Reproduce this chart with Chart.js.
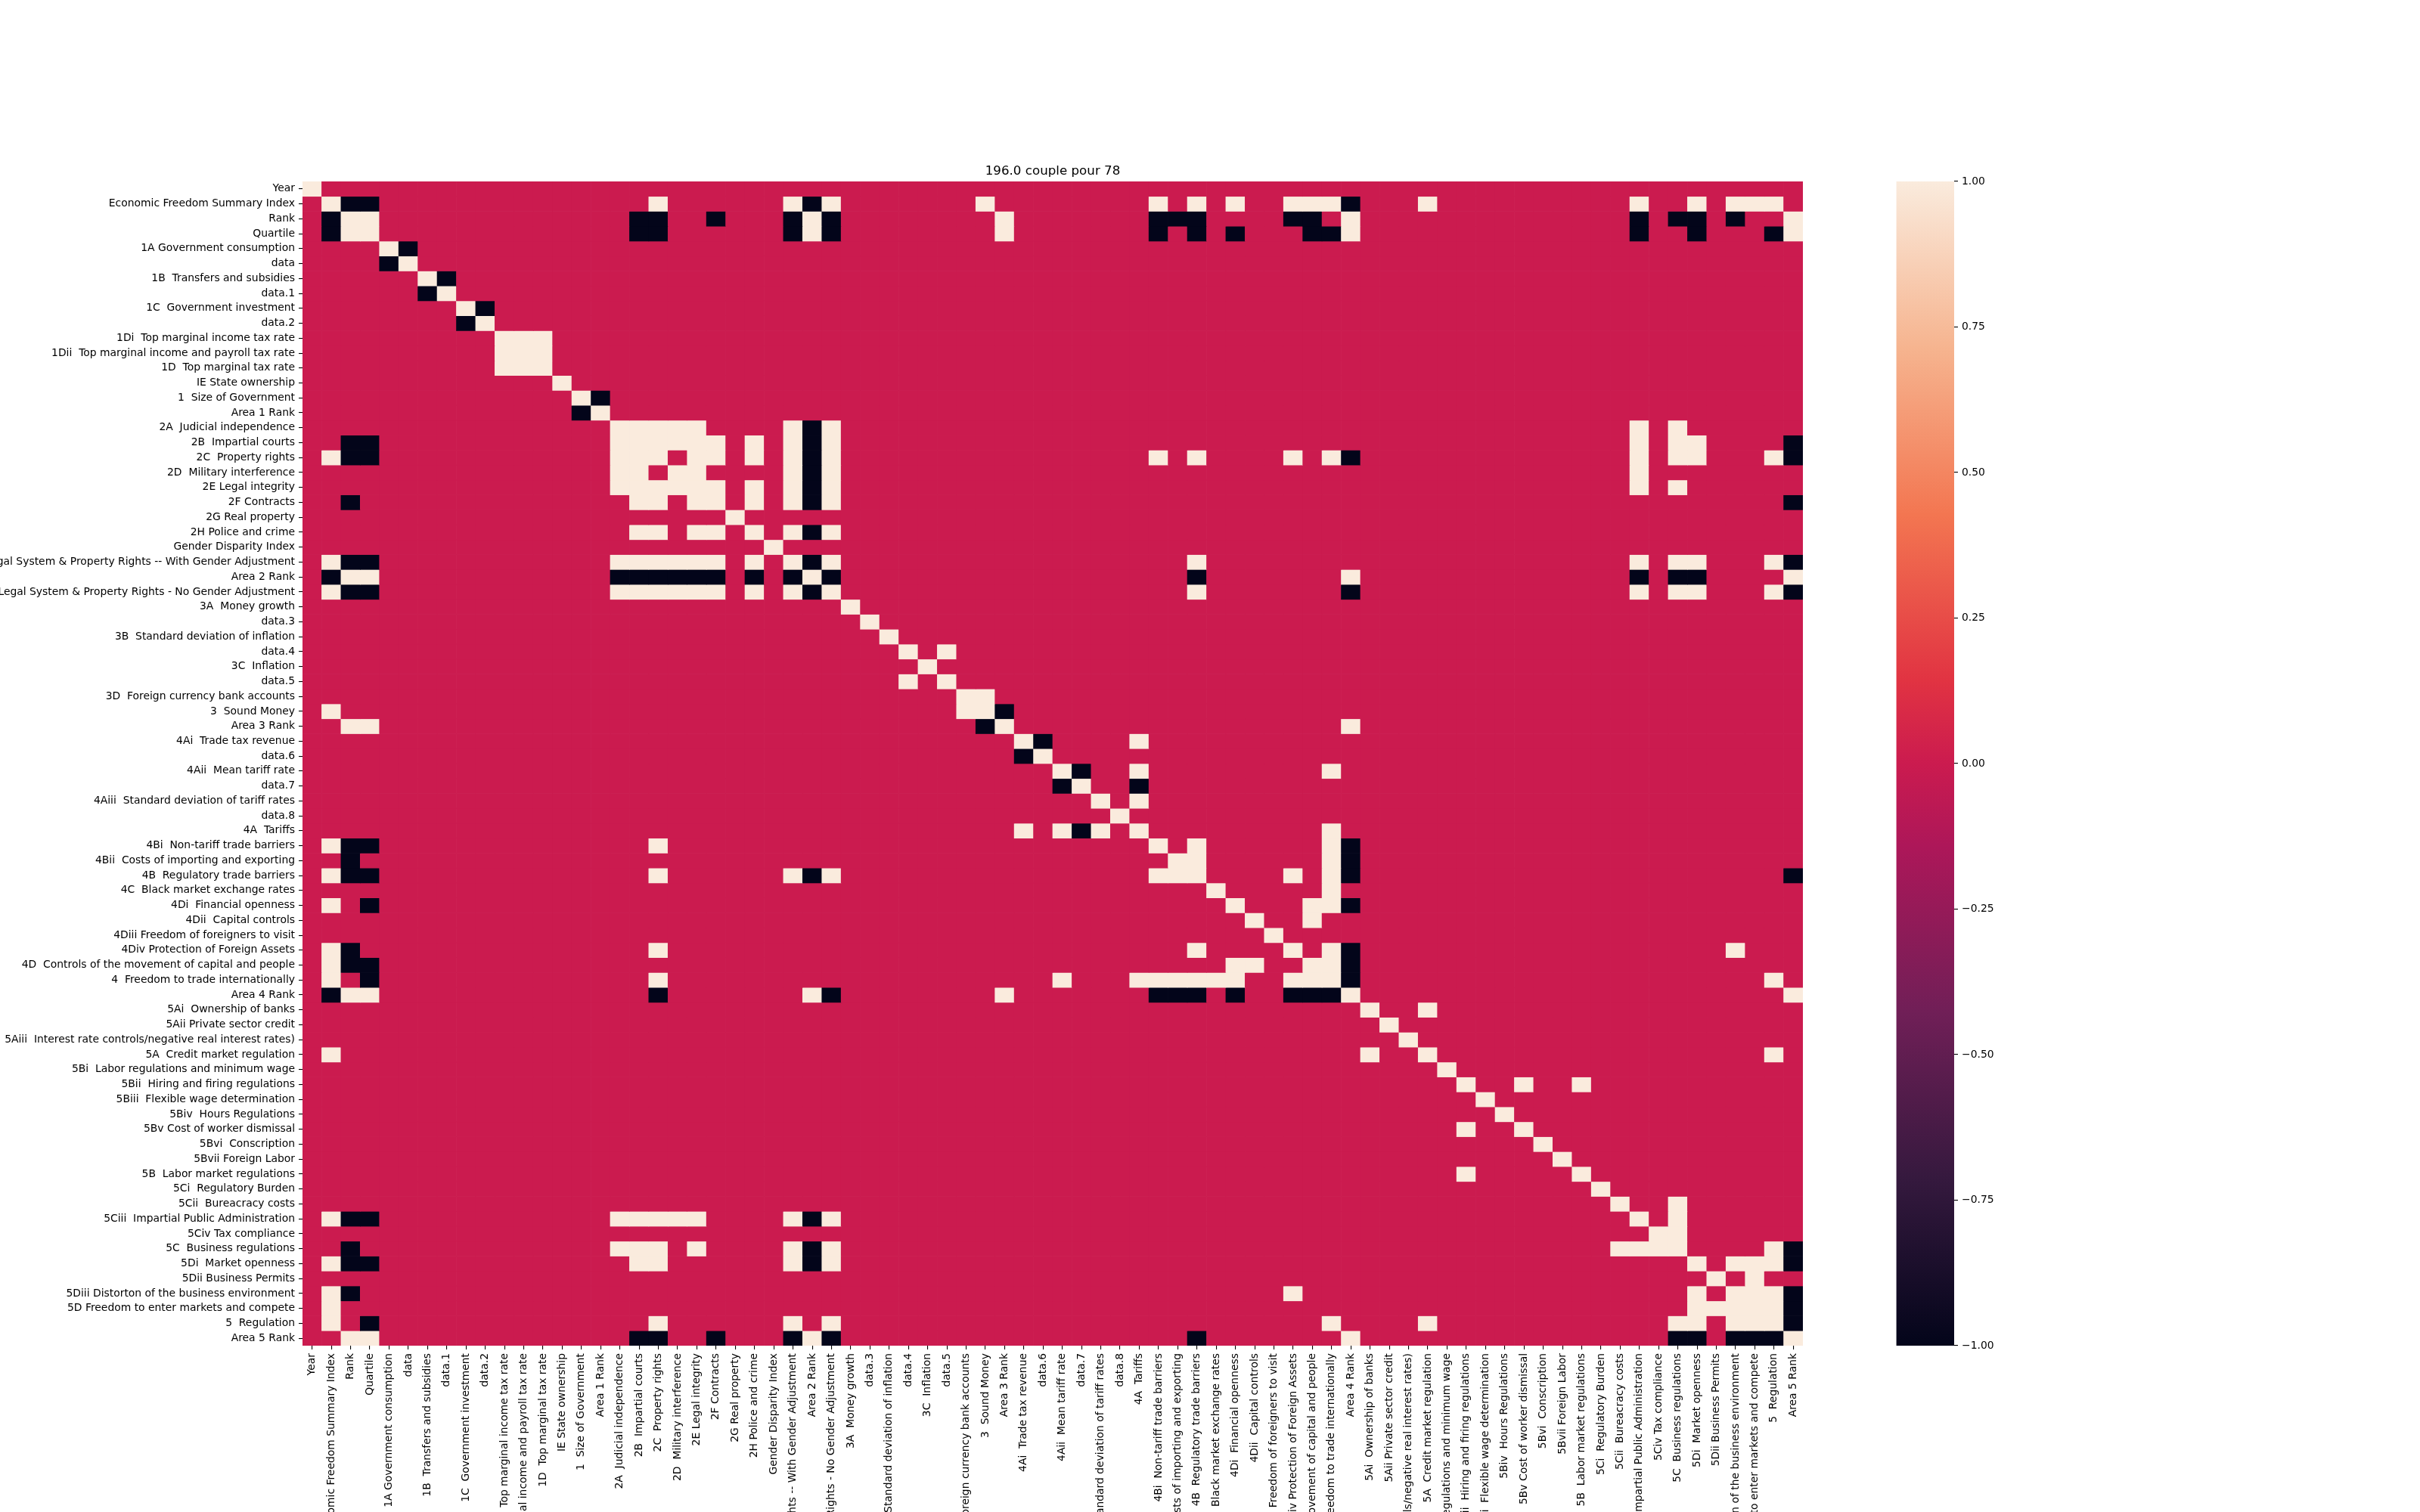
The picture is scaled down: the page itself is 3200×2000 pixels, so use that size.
<!DOCTYPE html>
<html>
<head>
<meta charset="utf-8">
<script src="https://cdn.jsdelivr.net/npm/chart.js@4.4.1/dist/chart.umd.min.js"></script>
<style>
  html, body { margin: 0; padding: 0; background: #fff; overflow: hidden; }
  #main { position: absolute; left: 0; top: 0; width: 3200px; height: 2000px; }
  #cbar { position: absolute; left: 2480px; top: 0; width: 300px; height: 2000px; }
</style>
</head>
<body>
<div id="main"><canvas id="heat"></canvas></div>
<div id="cbar"><canvas id="bar"></canvas></div>
<script>
const chartTitle = '196.0 couple pour 78';

const rowLabels = [
  'Year', 'Economic Freedom Summary Index', 'Rank', 'Quartile',
  '1A Government consumption', 'data', '1B  Transfers and subsidies', 'data.1',
  '1C  Government investment', 'data.2', '1Di  Top marginal income tax rate',
  '1Dii  Top marginal income and payroll tax rate', '1D  Top marginal tax rate',
  'IE State ownership', '1  Size of Government', 'Area 1 Rank',
  '2A  Judicial independence', '2B  Impartial courts', '2C  Property rights',
  '2D  Military interference', '2E Legal integrity', '2F Contracts', '2G Real property',
  '2H Police and crime', 'Gender Disparity Index',
  '2  Legal System & Property Rights -- With Gender Adjustment', 'Area 2 Rank',
  '2  Legal System & Property Rights - No Gender Adjustment',
  '3A  Money growth', 'data.3', '3B  Standard deviation of inflation', 'data.4',
  '3C  Inflation', 'data.5', '3D  Foreign currency bank accounts', '3  Sound Money',
  'Area 3 Rank', '4Ai  Trade tax revenue', 'data.6', '4Aii  Mean tariff rate', 'data.7',
  '4Aiii  Standard deviation of tariff rates', 'data.8', '4A  Tariffs',
  '4Bi  Non-tariff trade barriers', '4Bii  Costs of importing and exporting',
  '4B  Regulatory trade barriers', '4C  Black market exchange rates',
  '4Di  Financial openness', '4Dii  Capital controls', '4Diii Freedom of foreigners to visit',
  '4Div Protection of Foreign Assets', '4D  Controls of the movement of capital and people',
  '4  Freedom to trade internationally', 'Area 4 Rank', '5Ai  Ownership of banks',
  '5Aii Private sector credit', '5Aiii  Interest rate controls/negative real interest rates)',
  '5A  Credit market regulation', '5Bi  Labor regulations and minimum wage',
  '5Bii  Hiring and firing regulations', '5Biii  Flexible wage determination',
  '5Biv  Hours Regulations', '5Bv Cost of worker dismissal', '5Bvi  Conscription',
  '5Bvii Foreign Labor', '5B  Labor market regulations', '5Ci  Regulatory Burden',
  '5Cii  Bureacracy costs', '5Ciii  Impartial Public Administration', '5Civ Tax compliance',
  '5C  Business regulations', '5Di  Market openness', '5Dii Business Permits',
  '5Diii Distorton of the business environment', '5D Freedom to enter markets and compete',
  '5  Regulation', 'Area 5 Rank'
];
const colLabels = rowLabels;

// cells read as +1.00 (cream), per row: column indexes
const plusCells = [
  [0], [1,18,25,27,35,44,46,48,51,52,53,58,69,72,74,75,76], [2,3,26,36,54,77], [2,3,26,36,54,77],
  [4], [5], [6], [7], [8], [9], [10,11,12], [10,11,12], [10,11,12], [13], [14], [15],
  [16,17,18,19,20,25,27,69,71],
  [16,17,18,19,20,21,23,25,27,69,71,72],
  [1,16,17,18,20,21,23,25,27,44,46,51,53,69,71,72,76],
  [16,17,19,20,25,27,69],
  [16,17,18,19,20,21,23,25,27,69,71],
  [17,18,20,21,23,25,27],
  [22],
  [17,18,20,21,23,25,27],
  [24],
  [1,16,17,18,19,20,21,23,25,27,46,69,71,72,76],
  [2,3,26,54,77],
  [1,16,17,18,19,20,21,23,25,27,46,69,71,72,76],
  [28], [29], [30], [31,33], [32], [31,33], [34,35], [1,34,35], [2,3,36,54],
  [37,43], [38], [39,43,53], [40], [41,43], [42], [37,39,41,43,53],
  [1,18,44,46,53], [45,46,53], [1,18,25,27,44,45,46,51,53], [47,53], [1,48,52,53],
  [49,52], [50], [1,18,46,51,53,74], [1,48,49,52,53],
  [1,18,39,43,44,45,46,47,48,51,52,53,76],
  [2,3,26,36,54,77],
  [55,58], [56], [57], [1,55,58,76], [59], [60,63,66], [61], [62], [60,63], [64], [65],
  [60,66], [67], [68,71],
  [1,16,17,18,19,20,25,27,69,71],
  [70,71],
  [16,17,18,20,25,27,68,69,70,71,76],
  [1,17,18,25,27,72,74,75,76],
  [73,75],
  [1,51,72,74,75,76],
  [1,72,73,74,75,76],
  [1,18,25,27,53,58,71,72,74,75,76],
  [2,3,26,54,77]
];

// cells read as -1.00 (black), per row: column indexes
const minusCells = [
  [], [2,3,26,54], [1,17,18,21,25,27,44,45,46,51,52,69,71,72,74],
  [1,17,18,25,27,44,46,48,52,53,69,72,76],
  [5], [4], [7], [6], [9], [8], [], [], [], [], [15], [14],
  [26], [2,3,26,77], [2,3,26,54,77], [26], [26], [2,26,77], [], [26], [],
  [2,3,26,77],
  [1,16,17,18,19,20,21,23,25,27,46,69,71,72],
  [2,3,26,54,77],
  [], [], [], [], [], [], [], [36], [35], [38], [37], [40], [39,43], [], [], [40],
  [2,3,54], [2,54], [2,3,26,54,77], [], [3,54], [], [], [2,54], [2,3,54], [3,54],
  [1,18,27,44,45,46,48,51,52,53],
  [], [], [], [], [], [], [], [], [], [], [], [], [], [],
  [2,3,26], [], [2,26,77], [2,3,26,77], [], [2,77], [77], [3,77],
  [17,18,21,25,27,46,71,72,74,75,76]
];

const cbarTicks = [-1, -0.75, -0.5, -0.25, 0, 0.25, 0.5, 0.75, 1];

// rocket colormap stops
const rocketStops = [
  [0.000, '#03051a'], [0.143, '#35193e'], [0.286, '#701f57'], [0.429, '#ad1759'],
  [0.500, '#cb1b4f'], [0.571, '#e13342'], [0.714, '#f37651'], [0.857, '#f6b48f'],
  [1.000, '#faebdd']
];

const font = { family: 'DejaVu Sans', size: 13.9 };
const ink  = '#000';

function hexRgb(hex) {
    return [1, 3, 5].map(i => parseInt(hex.slice(i, i + 2), 16));
}

function rocket(v) {
    const t = (v + 1) / 2;
    for (let i = 1; i < rocketStops.length; i++) {
        const [t1, c1] = rocketStops[i];
        const [t0, c0] = rocketStops[i - 1];
        if (t <= t1) {
            const k = (t - t0) / (t1 - t0);
            const a = hexRgb(c0), b = hexRgb(c1);
            const m = a.map((x, j) => Math.round(x + (b[j] - x) * k));
            return `rgb(${m[0]},${m[1]},${m[2]})`;
        }
    }
    return rocketStops[rocketStops.length - 1][1];
}

// ── matrix of values ──
const corr = rowLabels.map((_, r) => colLabels.map((_, c) =>
    plusCells[r].includes(c) ? 1 : (minusCells[r].includes(c) ? -1 : 0)));

const datasets = rowLabels.map((name, r) => ({
    label: name,
    data: colLabels.map(() => [r, r + 1]),
    backgroundColor: corr[r].map(rocket),
    borderWidth: 0,
    barPercentage: 1,
    categoryPercentage: 1,
    grouped: false
}));

new Chart(document.getElementById('heat'), {
    type: 'bar',
    data: { labels: colLabels, datasets },
    options: {
        animation: false,
        responsive: true,
        maintainAspectRatio: false,
        devicePixelRatio: 1,
        layout: { padding: { left: 0, top: 210, right: 816, bottom: 0 } },
        plugins: { legend: { display: false }, tooltip: { enabled: false } },
        scales: {
            x: {
                type: 'category',
                position: 'bottom',
                offset: true,
                ticks: { autoSkip: false, minRotation: 90, maxRotation: 90, font, color: ink, padding: 5 },
                grid: { offset: false, drawOnChartArea: false, tickLength: 5, color: ink, lineWidth: 1.1 },
                border: { display: false },
                afterFit: s => { s.height = 220; }
            },
            top: {
                type: 'category',
                axis: 'x',
                position: 'top',
                offset: true,
                ticks: { display: false },
                grid: { display: false },
                border: { display: false },
                title: {
                    display: true, text: chartTitle, color: ink,
                    font: { family: 'DejaVu Sans', size: 16.7 },
                    padding: { top: 7, bottom: 3 }
                },
                afterFit: s => { s.height = 30; }
            },
            y: {
                type: 'linear',
                min: 0,
                max: rowLabels.length,
                reverse: true,
                afterBuildTicks: s => { s.ticks = rowLabels.map((_, i) => ({ value: i + 0.5 })); },
                ticks: { autoSkip: false, callback: (v, i) => rowLabels[i], font, color: ink, padding: 5 },
                grid: { drawOnChartArea: false, tickLength: 5, color: ink, lineWidth: 1.1 },
                border: { display: false },
                afterFit: s => { s.width = 400; }
            }
        }
    }
});

// ── Colorbar ──
new Chart(document.getElementById('bar'), {
    type: 'bar',
    data: {
        labels: [''],
        datasets: [{
            data: [[cbarTicks[0], cbarTicks[cbarTicks.length - 1]]],
            backgroundColor: ctx => {
                const ca = ctx.chart.chartArea;
                if (!ca) return null;
                const g = ctx.chart.ctx.createLinearGradient(0, ca.bottom, 0, ca.top);
                rocketStops.forEach(([t, c]) => g.addColorStop(t, c));
                return g;
            },
            borderWidth: 0,
            barPercentage: 1,
            categoryPercentage: 1
        }]
    },
    options: {
        animation: false,
        responsive: true,
        maintainAspectRatio: false,
        devicePixelRatio: 1,
        layout: { padding: { left: 27.5, top: 240, right: 0, bottom: 220 } },
        plugins: { legend: { display: false }, tooltip: { enabled: false } },
        scales: {
            x: { display: false },
            y: {
                position: 'right',
                min: -1,
                max: 1,
                afterBuildTicks: s => { s.ticks = cbarTicks.map(v => ({ value: v })); },
                ticks: { font, color: ink, padding: 5, callback: v => v.toFixed(2).replace('-', '\u2212') },
                grid: { drawOnChartArea: false, tickLength: 5, color: ink, lineWidth: 1.1 },
                border: { display: false },
                afterFit: s => { s.width = 196; }
            }
        }
    }
});
</script>
</body>
</html>
